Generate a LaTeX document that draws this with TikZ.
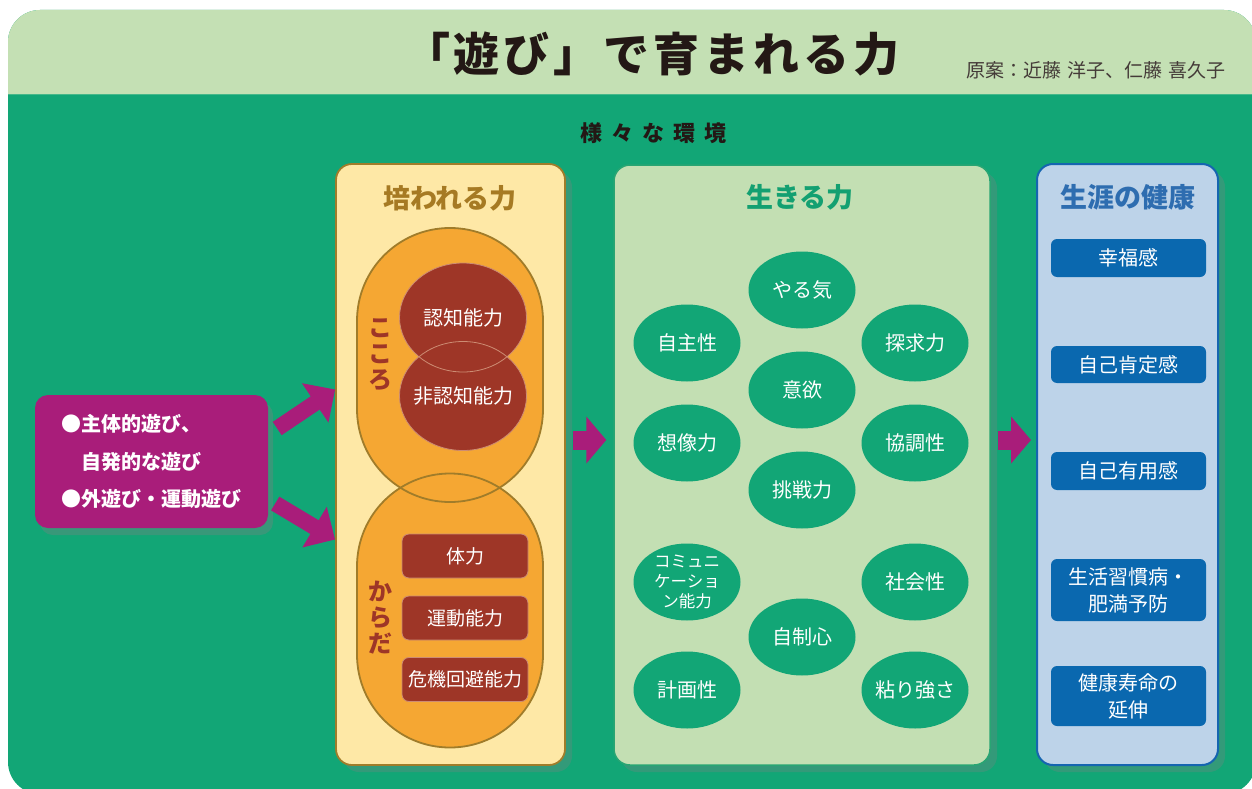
\documentclass[tikz,border=0pt]{standalone}
\usepackage{fontspec}
\setmainfont{Noto Sans CJK JP}
\usetikzlibrary{arrows.meta,shadows,shapes.geometric}
\definecolor{bodygreen}{RGB}{18,166,118}
\definecolor{headgreen}{RGB}{196,224,180}
\definecolor{sepgreen}{RGB}{70,184,138}
\definecolor{magenta1}{RGB}{169,29,122}
\definecolor{paleyellow}{RGB}{254,232,166}
\definecolor{goldline}{RGB}{160,124,42}
\definecolor{goldtext}{RGB}{166,122,35}
\definecolor{kokoroorange}{RGB}{245,167,51}
\definecolor{brickred}{RGB}{158,54,39}
\definecolor{brickline}{RGB}{205,140,115}
\definecolor{paleg}{RGB}{195,223,179}
\definecolor{midline}{RGB}{40,165,115}
\definecolor{ovalgreen}{RGB}{18,166,118}
\definecolor{midtext}{RGB}{19,160,113}
\definecolor{paleblue}{RGB}{189,211,233}
\definecolor{blueline}{RGB}{21,101,176}
\definecolor{bluebox}{RGB}{10,104,175}
\definecolor{bluetext}{RGB}{46,109,176}
\definecolor{darktext}{RGB}{35,24,21}
\tikzset{
  shadowed/.style={drop shadow={opacity=0.3, shadow xshift=7pt, shadow yshift=-7pt}},
  panel/.style={rectangle, rounded corners=16, shadowed},
  paneltitle/.style={font=\bfseries\fontsize{27}{27}\selectfont},
  stadium/.style={rectangle, rounded corners=92.9, minimum width=186, minimum height=274, inner sep=0},
  ovaltext/.style={text=white, align=center, inner sep=0, font=\fontsize{20}{20}\selectfont},
  smalltext/.style={text=white, align=center, inner sep=0, font=\fontsize{16.5}{20}\selectfont},
  redoval/.style={ellipse, fill=brickred, minimum width=127, minimum height=109, inner sep=0},
  ovalline/.style={ellipse, draw=brickline, line width=0.8, minimum width=127, minimum height=109, inner sep=0},
  redbox/.style={rectangle, rounded corners=7, fill=brickred, draw=brickline, line width=0.8, minimum width=126, minimum height=44, inner sep=0, text=white, font=\fontsize{19}{19}\selectfont},
  vtext/.style={align=center, text=brickred, font=\bfseries\fontsize{24}{26}\selectfont},
  greenoval/.style={ellipse, fill=ovalgreen, minimum width=107, minimum height=77, inner sep=0},
  bluebtn/.style={rectangle, rounded corners=6, fill=bluebox, minimum width=155, inner sep=0, text=white, align=center, font=\fontsize{20}{27}\selectfont},
  fatarrow/.style={draw=magenta1, line width=16, -{Triangle[length=24pt, width=46pt]}},
  fatarrowh/.style={draw=magenta1, line width=19, -{Triangle[length=20pt, width=46pt]}},
}
\begin{document}
\begin{tikzpicture}[x=1pt,y=-1pt]
\useasboundingbox (0,0) rectangle (1252,789);
\fill[white] (0,0) rectangle (1252,789);
\begin{scope}
  \clip[rounded corners=32] (8,10) rectangle (1256,794);
  \fill[bodygreen] (0,0) rectangle (1260,800);
  \fill[headgreen] (0,0) rectangle (1260,94);
  \draw[sepgreen, line width=1.5] (0,94.5) -- (1260,94.5);
\end{scope}

% header texts
\node[text=darktext, font=\bfseries\fontsize{46}{46}\selectfont] (title) at (652,54)
  {「\kern4pt 遊\kern4pt び\kern4pt 」\kern4pt で\kern4pt 育\kern4pt ま\kern4pt れ\kern4pt る\kern4pt 力};
\node[anchor=west, text=darktext!85, font=\fontsize{19}{19}\selectfont, inner sep=0] (author) at (966,70)
  {原案：近藤\hspace{6pt}洋子、仁藤\hspace{6pt}喜久子};
\node[text=darktext, font=\bfseries\fontsize{22}{22}\selectfont] (env) at (653,133)
  {様\kern9pt 々\kern9pt な\kern9pt 環\kern9pt 境};

% left magenta box
\node[rectangle, rounded corners=13, fill=magenta1, minimum width=233, minimum height=133, inner sep=0,
      drop shadow={opacity=0.35, shadow xshift=5pt, shadow yshift=-7pt},
      text=white, align=left, font=\bfseries\fontsize{20}{37.5}\selectfont] (play) at (151.5,461.5)
  {●主体的遊び、\\\hspace*{20pt}自発的な遊び\\●外遊び・運動遊び};

% yellow panel
\node[panel, fill=paleyellow, draw=goldline, line width=1.8, minimum width=229, minimum height=601] (cult) at (450.5,464.5) {};
\node[paneltitle, text=goldtext] (cultT) at (450,198) {培われる力};
\node[stadium, fill=kokoroorange] (kokoro) at (450,365) {};
\node[stadium, fill=kokoroorange] (karada) at (450,610.5) {};
\node[stadium, draw=goldline, line width=1.8] (kokoroL) at (450,365) {};
\node[stadium, draw=goldline, line width=1.8] (karadaL) at (450,610.5) {};
\node[redoval, label={[ovaltext]center:認知能力}] (cog) at (463,317.5) {};
\node[redoval, label={[ovaltext]center:非認知能力}] (noncog) at (463,396) {};
\node[ovalline] (cogL) at (463,317.5) {};
\node[ovalline] (noncogL) at (463,396) {};
\node[vtext] (kokoroT) at (380,355) {こ\\こ\\ろ};
\node[vtext] (karadaT) at (380,618) {か\\ら\\だ};
\node[redbox] (tai) at (465,556) {体力};
\node[redbox] (undo) at (465,618) {運動能力};
\node[redbox] (kiki) at (465,679.5) {危機回避能力};

% middle panel
\node[panel, fill=paleg, draw=midline, line width=1.5, minimum width=376, minimum height=600] (mid) at (802,465) {};
\node[paneltitle, text=midtext] (midT) at (800,197) {生きる力};
\node[greenoval, label={[ovaltext]center:やる気}] (yaruki) at (802,290) {};
\node[greenoval, label={[ovaltext]center:自主性}] (jishu) at (687,343) {};
\node[greenoval, label={[ovaltext]center:探求力}] (tankyu) at (915,343) {};
\node[greenoval, label={[ovaltext]center:意欲}] (iyoku) at (802,390) {};
\node[greenoval, label={[ovaltext]center:想像力}] (sozo) at (687,443) {};
\node[greenoval, label={[ovaltext]center:協調性}] (kyocho) at (915,443) {};
\node[greenoval, label={[ovaltext]center:挑戦力}] (chosen) at (802,490) {};
\node[greenoval, label={[smalltext]center:コミュニ\\ケーショ\\ン能力}] (comm) at (687,582) {};
\node[greenoval, label={[ovaltext]center:社会性}] (shakai) at (915,582) {};
\node[greenoval, label={[ovaltext]center:自制心}] (jisei) at (802,637) {};
\node[greenoval, label={[ovaltext]center:計画性}] (keikaku) at (687,690) {};
\node[greenoval, label={[ovaltext]center:粘り強さ}] (nebari) at (915,690) {};

% right panel
\node[panel, fill=paleblue, draw=blueline, line width=2, minimum width=181, minimum height=601] (health) at (1127.5,464.5) {};
\node[paneltitle, text=bluetext] (healthT) at (1128,197) {生涯の健康};
\node[bluebtn, minimum height=38] (kofuku) at (1128.5,258) {幸福感};
\node[bluebtn, minimum height=37] (kotei) at (1128.5,364.5) {自己肯定感};
\node[bluebtn, minimum height=38] (yuyo) at (1128.5,471) {自己有用感};
\node[bluebtn, minimum height=62] (seikatsu) at (1128.5,590) {生活習慣病・\\肥満予防};
\node[bluebtn, minimum height=60] (jumyo) at (1128.5,696) {健康寿命の\\延伸};

% arrows
\draw[fatarrow] ([shift={(9,-33)}]play.east) -- ([shift={(0,-75)}]cult.west);
\draw[fatarrow] ([shift={(7,42)}]play.east) -- ([shift={(0,75)}]cult.west);
\draw[fatarrowh] ([shift={(7,-24.5)}]cult.east) -- ([shift={(-7,-25)}]mid.west);
\draw[fatarrowh] ([shift={(7,-25)}]mid.east) -- ([shift={(-5,-24.5)}]health.west);
\end{tikzpicture}
\end{document}
